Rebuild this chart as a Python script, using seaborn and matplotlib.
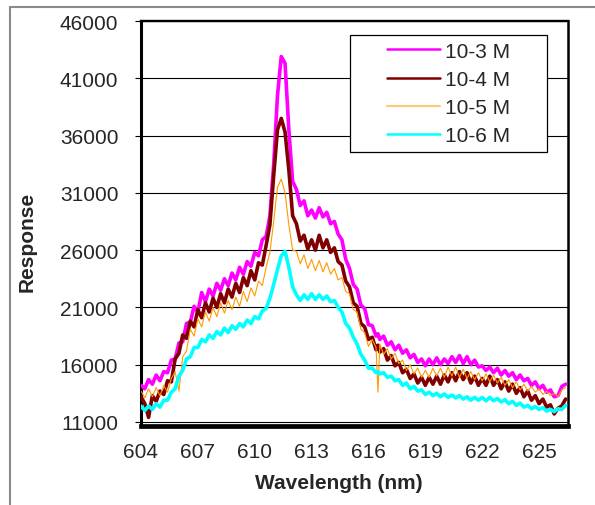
import matplotlib
matplotlib.use("Agg")
import matplotlib.pyplot as plt
from matplotlib.patches import Rectangle
from matplotlib.lines import Line2D
import seaborn as sns
import pandas as pd

# ---------------- data ----------------
wavelength = [604.0, 604.2, 604.4, 604.6, 604.8, 605.0, 605.2, 605.4, 605.6, 605.8,
              606.0, 606.2, 606.4, 606.6, 606.8, 607.0, 607.2, 607.4, 607.6, 607.8,
              608.0, 608.2, 608.4, 608.6, 608.8, 609.0, 609.2, 609.4, 609.6, 609.8,
              610.0, 610.2, 610.4, 610.6, 610.8, 611.0, 611.2, 611.4, 611.6, 611.8,
              612.0, 612.2, 612.4, 612.6, 612.8, 613.0, 613.2, 613.4, 613.6, 613.8,
              614.0, 614.2, 614.4, 614.6, 614.8, 615.0, 615.2, 615.4, 615.6, 615.8,
              616.0, 616.2, 616.4, 616.5, 616.6, 616.8, 617.0, 617.2, 617.4, 617.6,
              617.8, 618.0, 618.2, 618.4, 618.6, 618.8, 619.0, 619.2, 619.4, 619.6,
              619.8, 620.0, 620.2, 620.4, 620.6, 620.8, 621.0, 621.2, 621.4, 621.6,
              621.8, 622.0, 622.2, 622.4, 622.6, 622.8, 623.0, 623.2, 623.4, 623.6,
              623.8, 624.0, 624.2, 624.4, 624.6, 624.8, 625.0, 625.2, 625.4, 625.6,
              625.8, 626.0, 626.2, 626.4]

resp_1e3 = [14200, 13900, 14700, 14300, 15100, 14600, 15400, 15300, 16400, 16500,
            17900, 18000, 19600, 19700, 21100, 20600, 22300, 21500, 22600, 22000,
            23100, 22500, 23500, 22900, 24000, 23400, 24500, 23900, 25000, 24600,
            25800, 25500, 26900, 27200, 29000, 33500, 39500, 42900, 42300, 36500,
            32000, 31300, 29900, 30300, 29000, 29500, 28800, 29700, 28900, 29300,
            28300, 28500, 27400, 26900, 25200, 24400, 23000, 22600, 21200, 20900,
            19500, 19400, 18500, 18700, 18200, 18500, 17700, 18000, 17300, 17700,
            17000, 17300, 16600, 16900, 16200, 16500, 15900, 16500, 16000, 16600,
            16000, 16500, 16100, 16700, 16200, 16800, 16100, 16700, 16000, 16400,
            15800, 15900, 15500, 15800, 15300, 15700, 15100, 15500, 15000, 15300,
            14700, 15100, 14600, 14800, 14200, 14500, 13900, 14200, 13600, 13800,
            13200, 13300, 14100, 14300]

resp_1e4 = [13200, 12600, 11400, 13300, 12800, 13700, 13400, 14600, 14500, 16500,
            17000, 18600, 18300, 19800, 19300, 20800, 20100, 21400, 20600, 21800,
            21000, 22200, 21400, 22600, 21900, 23100, 22300, 23600, 22900, 24200,
            23400, 24900, 24700, 26400, 28200, 32500, 36500, 37500, 36300, 33000,
            29000, 28300, 26800, 27300, 26100, 26900, 26000, 27300, 26200, 26900,
            25800, 26200, 25000, 24700, 23300, 22800, 21400, 21100, 19600, 19300,
            18200, 18400, 17300, 17700, 17100, 17400, 16400, 16800, 15900, 16200,
            15300, 15600, 14800, 15200, 14400, 14900, 14200, 14900, 14300, 15000,
            14300, 15100, 14500, 15300, 14600, 15400, 14700, 15300, 14400, 15000,
            14200, 14800, 14200, 15000, 14200, 14700, 13900, 14500, 13700, 14300,
            13500, 14000, 13200, 13700, 12900, 13300, 12600, 13000, 12300, 12500,
            11700, 12200, 12400, 13000]

resp_1e5 = [13700, 13100, 13900, 13200, 14000, 13300, 14200, 13600, 14800, 15400,
            13700, 16700, 17200, 19100, 18500, 20000, 19300, 20600, 19800, 21000,
            20200, 21400, 20500, 21600, 20800, 21900, 21100, 22400, 21500, 22700,
            22000, 23300, 22900, 24500, 25800, 28500, 31500, 32200, 31000, 28200,
            26000, 25900, 24800, 25600, 24400, 25200, 24200, 25100, 24100, 24900,
            23900, 24400, 23400, 23600, 22400, 22200, 20800, 20600, 19100, 18800,
            17600, 18200, 17500, 13600, 17800, 16900, 17400, 16500, 17000, 16100,
            16400, 15500, 16000, 15200, 15700, 14900, 15500, 14900, 15700, 15000,
            15700, 14900, 15800, 15000, 15800, 14900, 15600, 14800, 15400, 14700,
            15300, 14600, 15200, 14500, 15100, 14400, 14900, 14200, 14700, 14000,
            14500, 13800, 14300, 13700, 14100, 13600, 13900, 13400, 13700, 13300,
            13500, 13200, 13800, 14000]

resp_1e6 = [12400, 12000, 12400, 12100, 12600, 12300, 12900, 12900, 13600, 13900,
            15000, 15500, 16500, 16700, 17500, 17500, 18200, 18000, 18600, 18300,
            18900, 18600, 19200, 18800, 19400, 19100, 19600, 19300, 19900, 19600,
            20200, 20000, 20700, 20900, 21800, 23000, 24300, 25500, 25900, 24500,
            22800, 22100, 21600, 22100, 21700, 22200, 21700, 22100, 21700, 22000,
            21500, 21600, 21000, 20600, 19600, 19200, 18400, 17800, 16900, 16400,
            15700, 15700, 15300, 15400, 15200, 15300, 14900, 15000, 14600, 14700,
            14200, 14400, 13900, 14100, 13700, 13800, 13400, 13600, 13300, 13500,
            13200, 13450, 13150, 13350, 13100, 13300, 13000, 13200, 12900, 13150,
            12900, 13150, 12850, 13150, 12850, 13050, 12750, 12950, 12600, 12800,
            12450, 12650, 12300, 12450, 12150, 12350, 12100, 12250, 11950, 12100,
            11900, 12150, 12100, 12450]

series_labels = ["10-3 M", "10-4 M", "10-5 M", "10-6 M"]
series_colors = ["#FF00FF", "#800000", "#FF9900", "#00FFFF"]
series_widths = [2.6, 2.6, 0.8, 2.6]
x_ticks = [604, 607, 610, 613, 616, 619, 622, 625]
y_ticks = [11000, 16000, 21000, 26000, 31000, 36000, 41000, 46000]

df = pd.DataFrame({
    "Wavelength": wavelength * 4,
    "Response": resp_1e3 + resp_1e4 + resp_1e5 + resp_1e6,
    "Series": sum([[s] * len(wavelength) for s in series_labels], []),
})

# ---------------- styling ----------------
sns.set_theme(style="white")
plt.rcParams['font.family'] = ['Liberation Sans', 'DejaVu Sans']
FS = 15

W, H = 595, 506
fig = plt.figure(figsize=(W / 100, H / 100), dpi=100)
fig.patch.set_facecolor("white")

left, right, top, bottom = 141, 567.5, 22, 427
ax = fig.add_axes([left / W, 1 - bottom / H, (right - left) / W, (bottom - top) / H])

for lab, col, lw in zip(series_labels, series_colors, series_widths):
    sub = df[df["Series"] == lab]
    sns.lineplot(data=sub, x="Wavelength", y="Response", color=col, linewidth=lw,
                 estimator=None, sort=False, ax=ax, label=lab, zorder=3)

ax.set_xlim(604, 626.5)
ax.set_ylim(10650, 46000)
ax.set_xticks(x_ticks)
ax.set_xticklabels([str(t) for t in x_ticks])
ax.set_yticks(y_ticks)
ax.set_yticklabels([str(t) for t in y_ticks])
ax.tick_params(axis="y", direction="out", length=4.3, width=0.8, color="black",
               labelsize=FS, pad=12, left=True)
ax.tick_params(axis="x", length=0, labelsize=FS, pad=11.5)
ax.yaxis.grid(True, color="black", linewidth=0.8)
ax.xaxis.grid(False)
ax.set_axisbelow(True)

for side, lw in zip(["top", "left", "right", "bottom"], [1.7, 2.2, 1.8, 3.4]):
    ax.spines[side].set_visible(True)
    ax.spines[side].set_color("black")
    ax.spines[side].set_linewidth(lw)

ax.set_xlabel("")
ax.set_ylabel("")
fig.text(339 / W, 1 - 484 / H, "Wavelength (nm)", ha="center", va="center",
         fontsize=FS, fontweight="bold")
fig.text(27 / W, 1 - 242 / H, "Response", ha="center", va="center",
         rotation=90, fontsize=FS, fontweight="bold")

# legend with a manually drawn frame
ax.get_legend().remove()
bx0, bx1, by0, by1 = 350, 547, 36, 153
ax.add_patch(Rectangle(((bx0 - left) / (right - left), (bottom - by1) / (bottom - top)),
                       (bx1 - bx0) / (right - left), (by1 - by0) / (bottom - top),
                       transform=ax.transAxes, facecolor="white", edgecolor="black",
                       linewidth=0.9, zorder=5))
handles = [Line2D([], [], color=c, linewidth=(1.8 if lw > 1 else 1.5))
           for c, lw in zip(series_colors, series_widths)]
handles[2].set_color("#FFC870")
leg = ax.legend(handles, series_labels, loc="center",
                bbox_to_anchor=(((bx0 + bx1) / 2 - left) / (right - left),
                                (bottom - (by0 + by1) / 2) / (bottom - top)),
                frameon=False, fontsize=FS, handlelength=2.55, handletextpad=0.25,
                labelspacing=0.44, borderpad=0)
leg.set_zorder(6)

# outer chart-area border (left and top edges visible)
fig.add_artist(Line2D([10 / W, 10 / W], [0, 1 - 8 / H], color="#8a8a8a", linewidth=1.5,
                      transform=fig.transFigure))
fig.add_artist(Line2D([10 / W, 1], [1 - 8 / H, 1 - 8 / H], color="#8a8a8a", linewidth=1.5,
                      transform=fig.transFigure))

fig.savefig("out.png", dpi=100)
